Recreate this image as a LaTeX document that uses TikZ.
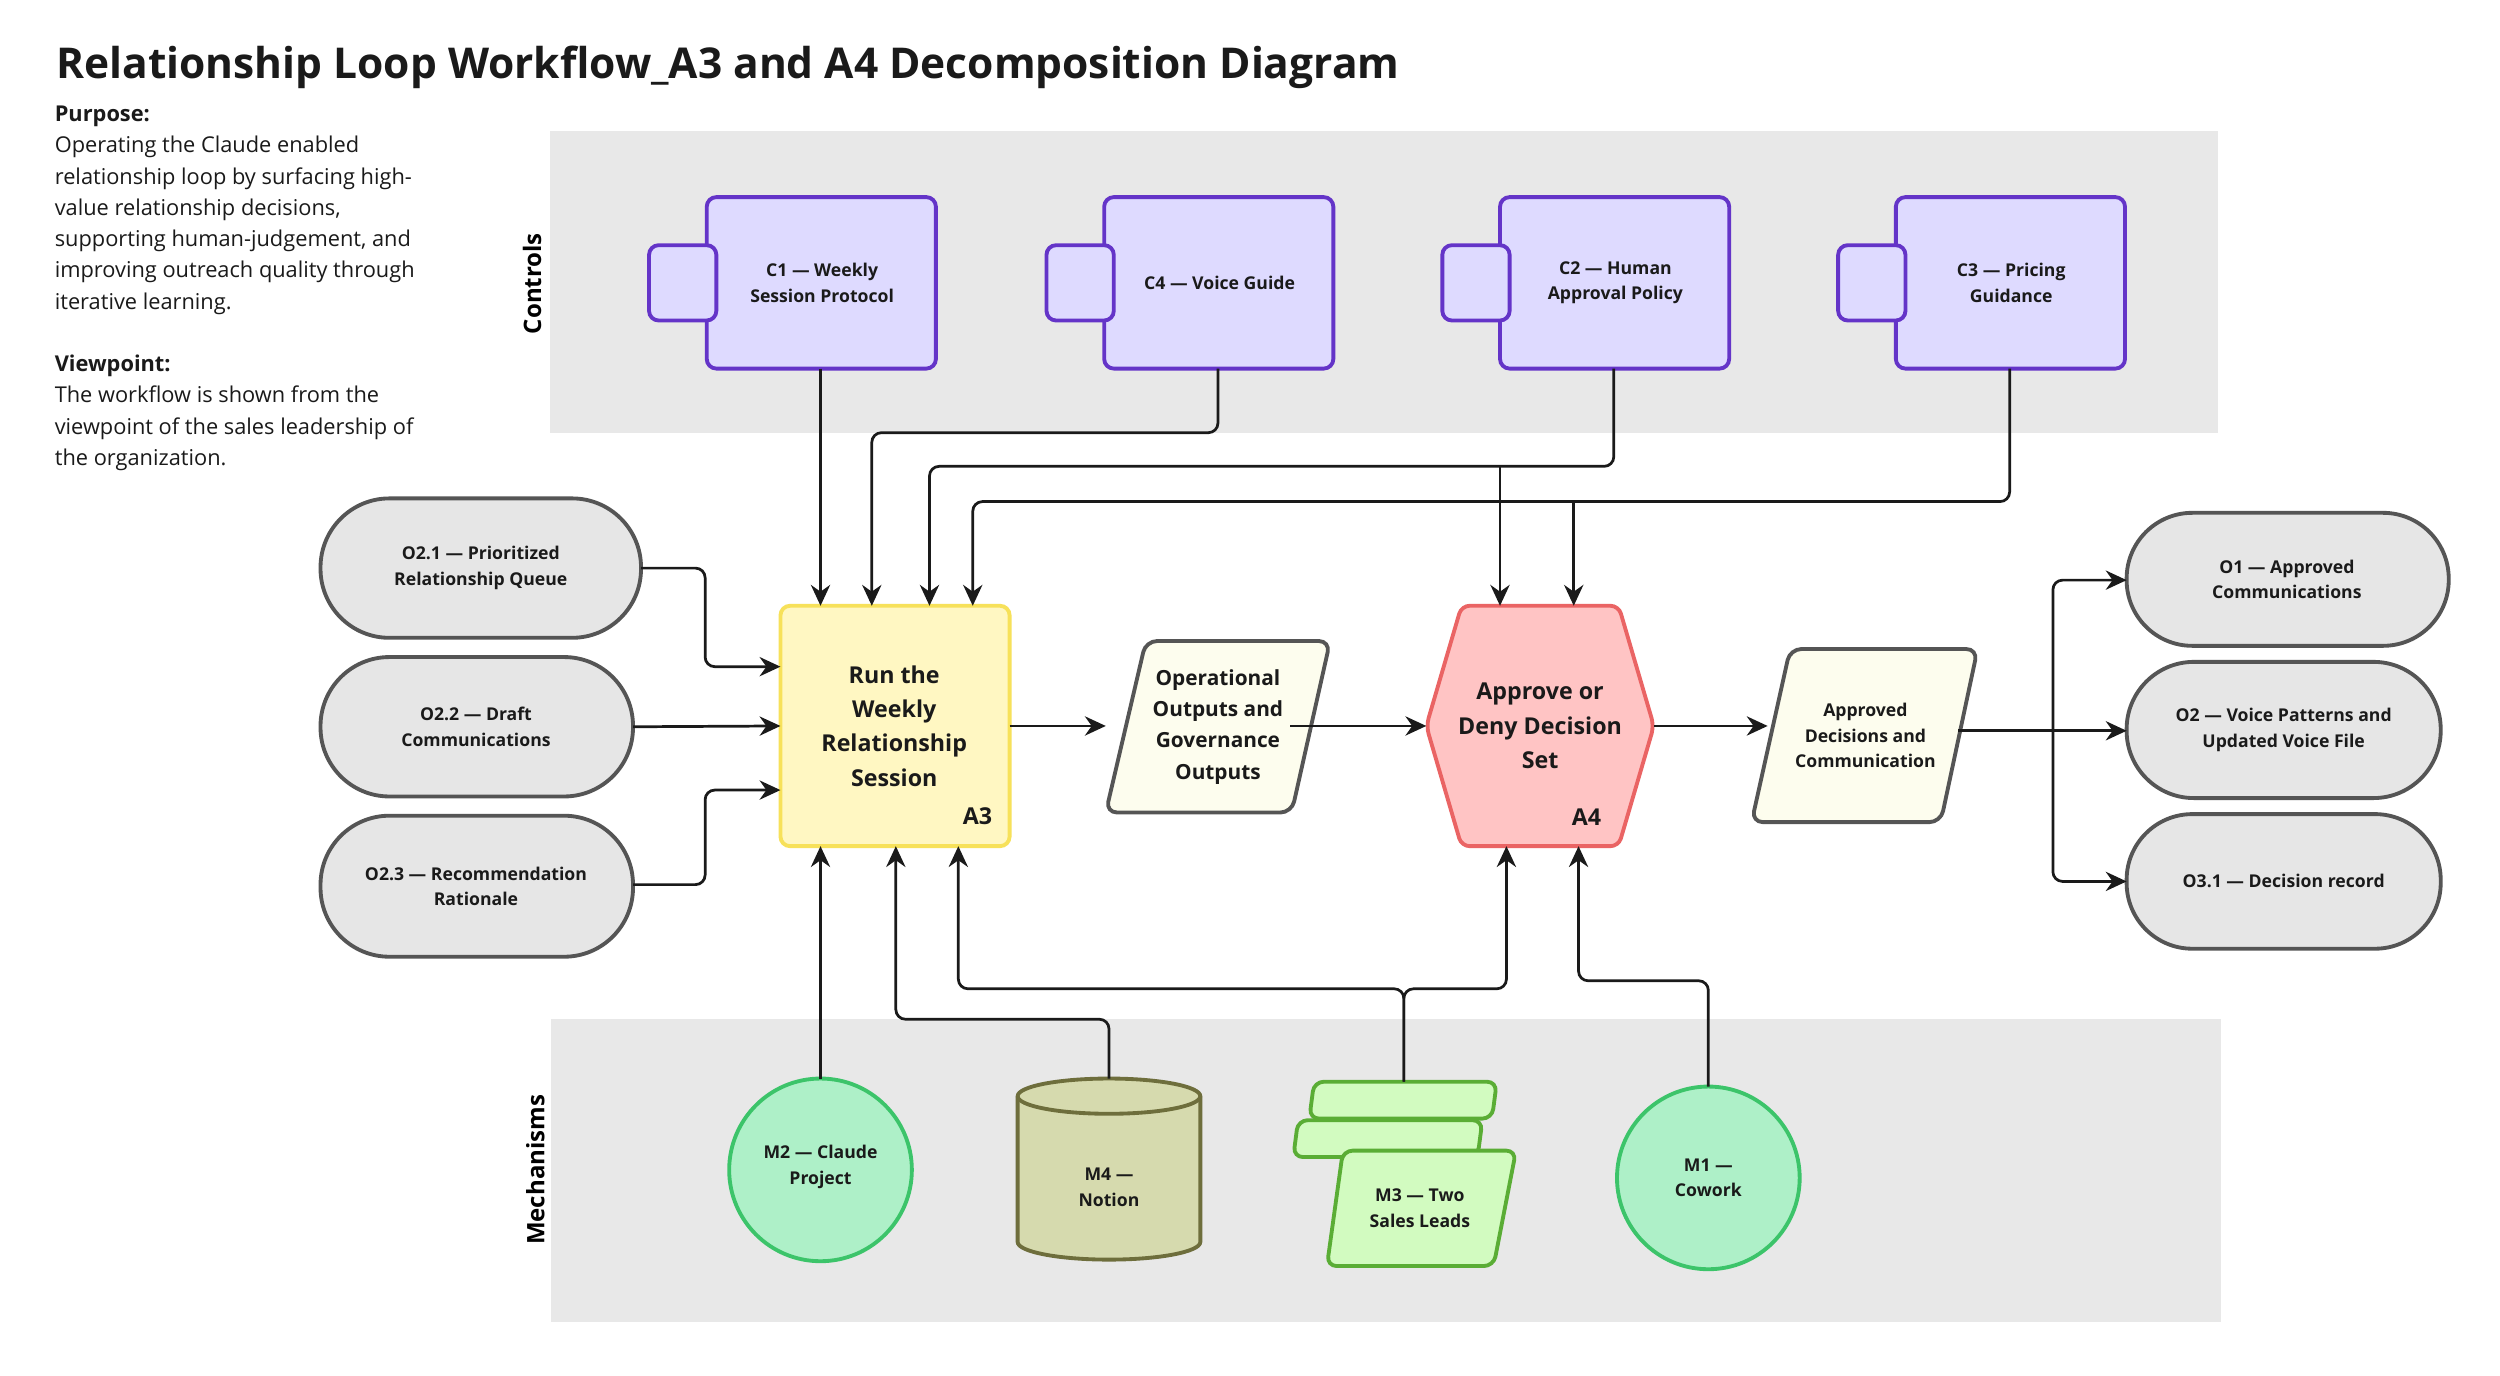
\documentclass[tikz,border=0pt]{standalone}
\usepackage{fontspec}
\setmainfont{Open Sans}
\usetikzlibrary{arrows.meta}
\definecolor{band}{HTML}{E8E8E8}
\definecolor{cfill}{HTML}{DEDAFF}
\definecolor{cdraw}{HTML}{6434C8}
\definecolor{sfill}{HTML}{E6E6E6}
\definecolor{sdraw}{HTML}{555555}
\definecolor{yfill}{HTML}{FFF7C2}
\definecolor{ydraw}{HTML}{F7E15A}
\definecolor{pfill}{HTML}{FDFDEE}
\definecolor{hfill}{HTML}{FFC4C4}
\definecolor{hdraw}{HTML}{EA6464}
\definecolor{gfill}{HTML}{AEF0C8}
\definecolor{gdraw}{HTML}{3CC46A}
\definecolor{cylf}{HTML}{D6DAAE}
\definecolor{cyld}{HTML}{6E6E3C}
\definecolor{mfill}{HTML}{D2FBC0}
\definecolor{mdraw}{HTML}{5AAD35}
\definecolor{ink}{HTML}{1A1A1A}
\tikzset{
  lbl/.style={font=\bfseries\fontsize{11}{16}\selectfont,align=center,text=ink},
  big/.style={font=\bfseries\fontsize{14.5}{21.5}\selectfont,align=center,text=ink},
  ctl/.style={draw=cdraw,fill=cfill,line width=2.4pt,rounded corners=6pt},
  stad/.style={draw=sdraw,fill=sfill,line width=2.4pt},
  conn/.style={draw=ink,line width=1.7pt,rounded corners=6pt,-{Stealth[length=13pt,width=12pt]}},
  line/.style={draw=ink,line width=1.7pt,rounded corners=6pt},
}
\begin{document}
\begin{tikzpicture}[x=1pt,y=-1pt]
\useasboundingbox (0,0) rectangle (1560,858.6);
\fill[white] (0,0) rectangle (1560,858.6);
% bands
\fill[band] (343,82) rectangle (1384,270);
\fill[band] (344,636) rectangle (1386,825);
\node[rotate=90,font=\bfseries\fontsize{15}{17}\selectfont] (lc) at (332,177) {Controls};
\node[rotate=90,font=\bfseries\fontsize{15}{17}\selectfont] (lm) at (334,730) {Mechanisms};
% title
\node[anchor=west,font=\bfseries\fontsize{26.5}{30}\selectfont,text=ink,inner sep=0pt] (title) at (35,42) {Relationship Loop Workflow\_A3 and A4 Decomposition Diagram};
\node[anchor=north west,align=left,font=\fontsize{13.6}{19.5}\selectfont,text=ink,inner sep=0pt] (purp) at (34,66) {\textbf{Purpose:}\\Operating the Claude enabled\\relationship loop by surfacing high-\\value relationship decisions,\\supporting human-judgement, and\\improving outreach quality through\\iterative learning.\\[19.5pt]\textbf{Viewpoint:}\\The workflow is shown from the\\viewpoint of the sales leadership of\\the organization.};
% controls
\foreach \nm/\x/\t in {c1/441/{C1 — Weekly\\Session Protocol},c4/689/{C4 — Voice Guide},c2/936/{C2 — Human\\Approval Policy},c3/1183/{C3 — Pricing\\Guidance}}{
  \path[ctl] (\x,123) rectangle ++(143,107);
  \path[ctl] (\x-36,153) rectangle ++(42,47);
  \node[lbl] (\nm) at (\x+72,176.5) {\t};
}
% left inputs
\path[stad,rounded corners=43pt] (200,311) rectangle (400,398);
\node[lbl] (o21) at (300,354.5) {O2.1 — Prioritized\\Relationship Queue};
\path[stad,rounded corners=43pt] (200,410) rectangle (395,497);
\node[lbl] (o22) at (297,453.5) {O2.2 — Draft\\Communications};
\path[stad,rounded corners=43pt] (200,509) rectangle (395,597);
\node[lbl] (o23) at (297,553) {O2.3 — Recommendation\\Rationale};
% right outputs
\path[stad,rounded corners=41pt] (1327,320) rectangle (1528,403);
\node[lbl] (o1) at (1427,361.5) {O1 — Approved\\Communications};
\path[stad,rounded corners=42pt] (1327,413) rectangle (1523,498);
\node[lbl] (o2) at (1425,455.5) {O2 — Voice Patterns and\\Updated Voice File};
\path[stad,rounded corners=41pt] (1327,508) rectangle (1523,592);
\node[lbl] (o31) at (1425,550) {O3.1 — Decision record};
% A3
\path[draw=ydraw,fill=yfill,line width=2.4pt,rounded corners=6pt] (487,378) rectangle (630,528);
\node[big] (a3) at (558,453) {Run the\\Weekly\\Relationship\\Session};
\node[big] (a3l) at (610,509) {A3};
% operational
\path[draw=sdraw,fill=pfill,line width=2.4pt,rounded corners=7pt] (715,400) -- (830,400) -- (806,507) -- (690,507) -- cycle;
\node[lbl,font=\bfseries\fontsize{13}{19.5}\selectfont] (op) at (760,453.5) {Operational\\Outputs and\\Governance\\Outputs};
% A4
\path[draw=hdraw,fill=hfill,line width=2.4pt,rounded corners=5pt] (912,378) -- (1010,378) -- (1032,453) -- (1010,528) -- (912,528) -- (890,453) -- cycle;
\node[big] (a4) at (961,453) {Approve or\\Deny Decision\\Set};
\node[big] (a4l) at (990,510) {A4};
% approved
\path[draw=sdraw,fill=pfill,line width=2.4pt,rounded corners=7pt] (1117,405) -- (1234,405) -- (1211,513) -- (1093,513) -- cycle;
\node[lbl] (ap) at (1164,459) {Approved\\Decisions and\\Communication};
% mechanisms
\path[draw=gdraw,fill=gfill,line width=2.4pt] (512,730) circle (57);
\node[lbl] (m2) at (512,728) {M2 — Claude\\Project};
\path[draw=gdraw,fill=gfill,line width=2.4pt] (1066,735) circle (57);
\node[lbl] (m1) at (1066,735) {M1 —\\Cowork};
\path[draw=cyld,fill=cylf,line width=2.4pt] (635,684) -- (635,775) arc (180:360:57 and -11) -- (749,684) arc (0:180:57 and -11) -- cycle;
\path[draw=cyld,line width=2.4pt] (635,684) arc (180:360:57 and -11);
\node[lbl] (m4) at (692,741) {M4 —\\Notion};
\path[draw=mdraw,fill=mfill,line width=2.4pt,rounded corners=6pt] (820,675) -- (934,675) -- (931,698) -- (817,698) -- cycle;
\path[draw=mdraw,fill=mfill,line width=2.4pt,rounded corners=6pt] (810,699) -- (925,699) -- (922,722) -- (807,722) -- cycle;
\path[draw=mdraw,fill=mfill,line width=2.4pt,rounded corners=6pt] (838,718) -- (946,718) -- (932,790) -- (828,790) -- cycle;
\node[lbl] (m3) at (886,754) {M3 — Two\\Sales Leads};
% coordinates
\coordinate (c1b) at (512,230); \coordinate (c4b) at (760,230);
\coordinate (c2b) at (1007,230); \coordinate (c3b) at (1254,230);
\coordinate (a3t1) at (512,378); \coordinate (a3t2) at (544,378);
\coordinate (a3t3) at (580,378); \coordinate (a3t4) at (607,378);
\coordinate (a4t1) at (936,378); \coordinate (a4t2) at (982,378);
\coordinate (a3l1) at (487,416); \coordinate (a3l2) at (487,453); \coordinate (a3l3) at (487,493);
\coordinate (o21r) at (400,354.5); \coordinate (o22r) at (395,453.5); \coordinate (o23r) at (395,552);
\coordinate (a3r) at (630,453); \coordinate (opl) at (690,453);
\coordinate (a4l) at (890,453); \coordinate (a4r) at (1032,453);
\coordinate (apl) at (1103,453);
\coordinate (o1l) at (1327,362); \coordinate (o2l) at (1327,456); \coordinate (o31l) at (1327,550);
\coordinate (a3b1) at (512,528); \coordinate (a3b2) at (559,528); \coordinate (a3b3) at (598,528);
\coordinate (a4b1) at (940,528); \coordinate (a4b2) at (985,528);
\coordinate (m2t) at (512,673); \coordinate (m4t) at (692,673); \coordinate (m3t) at (876,675); \coordinate (m1t) at (1066,678);
% connectors
\draw[conn] (c1b) -- (a3t1);
\draw[conn] (c4b) |- (544,270) -- (a3t2);
\draw[conn] (c2b) |- (580,291) -- (a3t3);
\draw[conn] (936,291) -- (a4t1);
\draw[conn] (c3b) |- (607,313) -- (a3t4);
\draw[conn] (982,313) -- (a4t2);
\draw[conn] (o21r) -| (440,416) -- (a3l1);
\draw[conn] (o22r) -- (a3l2);
\draw[conn] (o23r) -| (440,493) -- (a3l3);
\draw[conn] (a3r) -- (opl);
\draw[conn] (805,453) -- (a4l);
\draw[conn] (a4r) -- (apl);
\draw[line] (1222,456) -- (1281,456);
\draw[conn] (1281,456) |- (o1l);
\draw[conn] (1270,456) -- (o2l);
\draw[conn] (1281,456) |- (o31l);
\draw[conn] (m2t) -- (a3b1);
\draw[conn] (m4t) |- (559,636) -- (a3b2);
\draw[conn] (m3t) |- (598,617) -- (a3b3);
\draw[conn] (m3t) |- (940,617) -- (a4b1);
\draw[conn] (m1t) |- (985,612) -- (a4b2);
\end{tikzpicture}
\end{document}
